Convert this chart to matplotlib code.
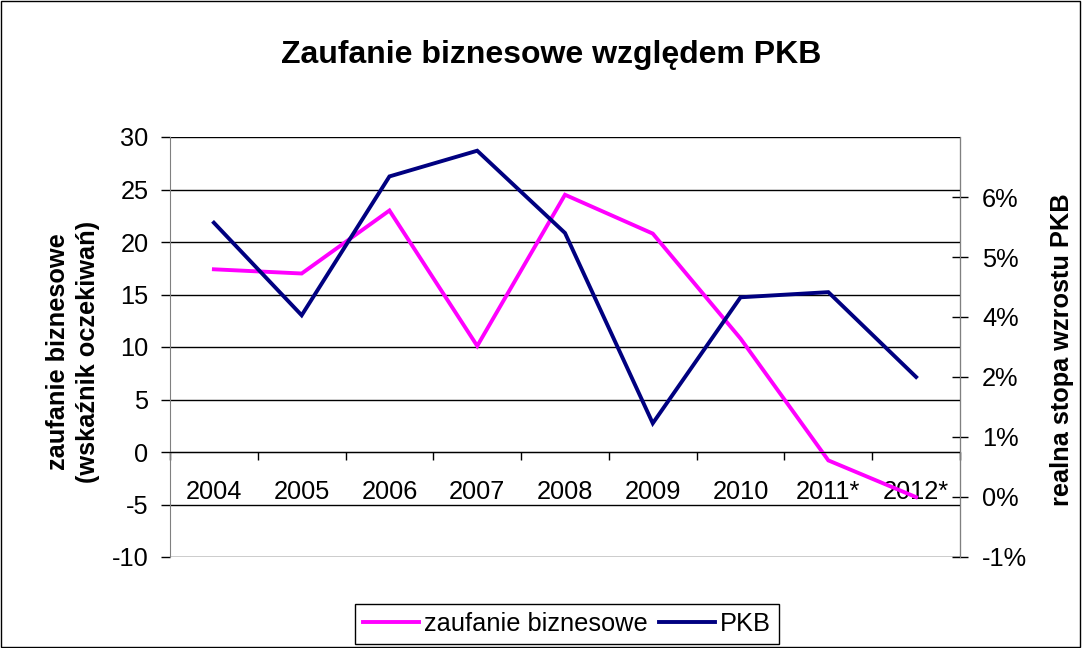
import numpy as np
import matplotlib
matplotlib.use("Agg")
import matplotlib.pyplot as plt
from matplotlib.patches import Rectangle

plt.rcParams['font.family'] = ['Liberation Sans', 'DejaVu Sans']
plt.rcParams['axes.unicode_minus'] = False

# data
years = ['2004', '2005', '2006', '2007', '2008', '2009', '2010', '2011*', '2012*']
zaufanie = [17.4, 17.0, 23.0, 10.1, 24.5, 20.8, 10.8, -0.8, -4.3]
pkb = [5.5, 3.7, 6.4, 6.9, 5.3, 1.6, 4.05, 4.15, 2.5]   # %

left_ticks = list(range(-10, 31, 5))
right_tick_vals = [-1 + k * 7 / 6 for k in range(7)]
right_tick_labels = ['-1%', '0%', '1%', '2%', '4%', '5%', '6%']

pink = '#FF00FF'
navy = '#000080'
fs = 18.3

fig = plt.figure(figsize=(10.82, 6.48), dpi=100)
fig.patches.append(Rectangle((0.001, 0.001), 0.997, 0.997, transform=fig.transFigure,
                             fill=False, edgecolor='black', lw=1))

ax = fig.add_axes([170 / 1082, 1 - 557 / 648, 790 / 1082, 420 / 648])
ax2 = ax.twinx()

x = np.arange(len(years))
l1, = ax.plot(x, zaufanie, color=pink, lw=2.8, solid_joinstyle='miter')
l2, = ax2.plot(x, pkb, color=navy, lw=2.8, solid_joinstyle='miter')

# left axis
ax.set_xlim(-0.5, len(years) - 0.5)
ax.set_ylim(-10, 30)
ax.set_yticks(left_ticks)
ax.yaxis.grid(True, color='black', lw=1)
ax.set_axisbelow(True)
ax.tick_params(axis='y', direction='out', length=6.5, width=1, pad=9, labelsize=fs)

# category axis crossing at zero
ax.spines['bottom'].set_position(('data', 0))
ax.spines['bottom'].set_color('black')
ax.spines['top'].set_visible(False)
ax.spines['left'].set_color('#808080')
ax.set_xticks(np.arange(-0.5, len(years), 1))
ax.set_xticklabels([])
ax.set_xticks(x, minor=True)
ax.set_xticklabels(years, minor=True)
ax.tick_params(axis='x', which='major', direction='out', length=6, width=1)
ax.tick_params(axis='x', which='minor', length=0, pad=20, labelsize=fs)

# right axis
ax2.set_ylim(-1, -1 + 7 * 7 / 6)
ax2.set_yticks(right_tick_vals)
ax2.set_yticklabels(right_tick_labels)
ax2.tick_params(axis='y', direction='inout', length=12, width=1, pad=10, labelsize=fs)
for s in ['top', 'bottom', 'left']:
    ax2.spines[s].set_visible(False)
ax2.spines['right'].set_color('#808080')

fig.text(551 / 1082, 1 - 55 / 648, 'Zaufanie biznesowe względem PKB', ha='center', va='center',
         fontsize=23, fontweight='bold')
fig.text(73 / 1082, 1 - 352 / 648, 'zaufanie biznesowe\n(wskaźnik oczekiwań)', rotation=90,
         ha='center', va='center', fontsize=fs, fontweight='bold', linespacing=1.3,
         multialignment='center')
fig.text(1062 / 1082, 1 - 350 / 648, 'realna stopa wzrostu PKB', rotation=90,
         ha='center', va='center', fontsize=fs, fontweight='bold')

leg = fig.legend([l1, l2], ['zaufanie biznesowe', 'PKB'], loc='center',
                 bbox_to_anchor=(567 / 1082, 1 - 624 / 648), ncol=2, fontsize=fs,
                 frameon=True, fancybox=False, framealpha=1, edgecolor='black',
                 handlelength=2.2, handletextpad=0.2, columnspacing=0.45,
                 borderpad=0.3)
leg.get_frame().set_linewidth(1)

fig.savefig('out.png', dpi=100)
